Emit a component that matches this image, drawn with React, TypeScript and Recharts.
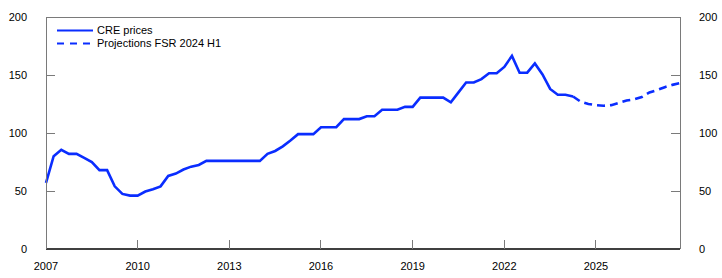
import React from 'react';
import { LineChart, Line, XAxis, YAxis } from 'recharts';

// quarterly index, 2007Q1 .. 2027Q4
const START_YEAR = 2007;
const N_QUARTERS = 84;

// CRE prices, 2007Q1 .. 2024Q2
const crePrices = [
  57, 80, 85.5, 82, 82, 78.5, 75, 68, 68, 54, 47.5, 46,
  46, 49.5, 51.5, 54, 63, 65, 68.5, 71, 72.5, 76, 76, 76,
  76, 76, 76, 76, 76, 82, 84.5, 88.5, 93.5, 99, 99, 99,
  105, 105, 105, 112, 112, 112, 114.5, 114.5, 120, 120, 120, 122.5,
  122.5, 130.5, 130.5, 130.5, 130.5, 126.5, 135, 143.5, 143.5, 146.5, 151.5, 151.5,
  157, 166.5, 152, 152, 160, 150.5, 138, 133, 133, 131.5,
];

// Projections FSR 2024 H1, 2024Q2 .. 2027Q4
const projStart = 69;
const projections = [131.5, 127, 125, 124, 123.5, 124, 126, 128, 129, 131, 135, 137, 139.5, 141.5, 143];

const xTicks = [0, 12, 24, 36, 48, 60, 72];
const yTicks = [0, 50, 100, 150, 200];

const BLUE = '#0a2dff';
const GREY = '#7a7a7a';
const FONT = '"Liberation Sans", Arial, Helvetica, sans-serif';

const W = 722;
const H = 278;
const PLOT_L = 46;
const PLOT_R = 680;
const PLOT_B = 249;
const TICK = 9;

const data = Array.from({ length: N_QUARTERS }, (_, i) => ({
  i,
  cre: i < crePrices.length ? crePrices[i] : null,
  proj: i >= projStart && i - projStart < projections.length ? projections[i - projStart] : null,
}));

const LeftTick = (props: any) => {
  const { y, payload } = props;
  return (
    <g>
      {payload.value > 0 && payload.value < 200 && (
        <line x1={PLOT_L} x2={PLOT_L + TICK} y1={y} y2={y} stroke={GREY} strokeWidth={1} shapeRendering="crispEdges" />
      )}
      {/* top frame line */}
      {payload.value === 200 && (
        <line x1={PLOT_L} x2={PLOT_R} y1={y} y2={y} stroke={GREY} strokeWidth={1} shapeRendering="crispEdges" />
      )}
      <text x={27} y={y} dy={4} textAnchor="end" fontSize={11} fill="#000" fontFamily={FONT}>
        {payload.value}
      </text>
    </g>
  );
};

const RightTick = (props: any) => {
  const { y, payload } = props;
  return (
    <g>
      {payload.value > 0 && payload.value < 200 && (
        <line x1={PLOT_R - TICK} x2={PLOT_R} y1={y} y2={y} stroke={GREY} strokeWidth={1} shapeRendering="crispEdges" />
      )}
      <text x={699} y={y} dy={4} textAnchor="start" fontSize={11} fill="#000" fontFamily={FONT}>
        {payload.value}
      </text>
    </g>
  );
};

const BottomTick = (props: any) => {
  const { x, payload } = props;
  return (
    <g>
      {payload.value > 0 && (
        <line x1={x} x2={x} y1={PLOT_B} y2={PLOT_B - TICK} stroke={GREY} strokeWidth={1} shapeRendering="crispEdges" />
      )}
      <text x={x} y={270} textAnchor="middle" fontSize={11} fill="#000" fontFamily={FONT}>
        {START_YEAR + payload.value / 4}
      </text>
    </g>
  );
};

function LegendRow({ dashed, label }: { dashed?: boolean; label: string }) {
  return (
    <div style={{ display: 'flex', alignItems: 'center', height: 13 }}>
      <svg width={36} height={13}>
        <line x1={0} x2={36} y1={6.5} y2={6.5} stroke={BLUE} strokeWidth={2.2}
          strokeDasharray={dashed ? '7 6' : undefined} />
      </svg>
      <span style={{ marginLeft: 4, fontSize: 11, lineHeight: '13px', color: '#000' }}>{label}</span>
    </div>
  );
}

export default function App() {
  return (
    <div style={{ position: 'absolute', left: 0, top: 0, width: W, height: H, background: '#fff', fontFamily: FONT }}>
      <LineChart width={W} height={H} data={data} margin={{ top: 17, right: 0, left: 0, bottom: 0 }}>
        <XAxis
          dataKey="i"
          type="number"
          domain={[0, N_QUARTERS - 1]}
          ticks={xTicks}
          height={H - PLOT_B}
          axisLine={{ stroke: '#000', strokeWidth: 1.5 }}
          tickLine={false}
          tick={<BottomTick />}
          interval={0}
        />
        <YAxis
          yAxisId="l"
          domain={[0, 200]}
          ticks={yTicks}
          width={PLOT_L}
          axisLine={{ stroke: GREY, strokeWidth: 1, shapeRendering: 'crispEdges' }}
          tickLine={false}
          tick={<LeftTick />}
          interval={0}
        />
        <YAxis
          yAxisId="r"
          orientation="right"
          domain={[0, 200]}
          ticks={yTicks}
          width={W - PLOT_R}
          axisLine={{ stroke: GREY, strokeWidth: 1, shapeRendering: 'crispEdges' }}
          tickLine={false}
          tick={<RightTick />}
          interval={0}
        />
        <Line
          yAxisId="l"
          dataKey="cre"
          stroke={BLUE}
          strokeWidth={2.6}
          dot={false}
          activeDot={false}
          connectNulls={false}
          isAnimationActive={false}
        />
        <Line
          yAxisId="r"
          dataKey="proj"
          stroke={BLUE}
          strokeWidth={2.6}
          strokeDasharray="8 5"
          dot={false}
          activeDot={false}
          connectNulls={false}
          isAnimationActive={false}
        />
      </LineChart>
      <div style={{ position: 'absolute', left: 57, top: 24 }}>
        <LegendRow label="CRE prices" />
        <LegendRow dashed label="Projections FSR 2024 H1" />
      </div>
    </div>
  );
}
